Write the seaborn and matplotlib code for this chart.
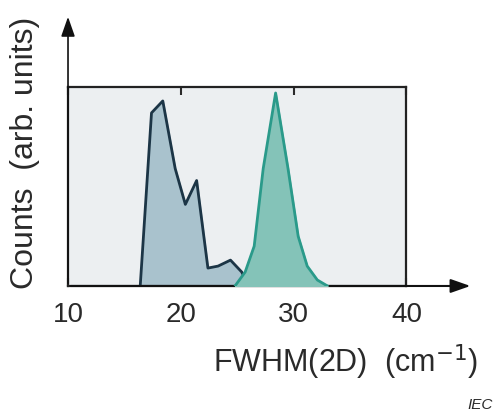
import numpy as np
import pandas as pd
import matplotlib
matplotlib.use("Agg")
import matplotlib.pyplot as plt
import seaborn as sns

# FWHM(2D) distributions (counts normalised)
fwhm_a = [16.4, 17.4, 18.4, 19.5, 20.4, 21.4, 22.4, 23.3, 24.4, 25.4, 26.0]
counts_a = [0.0, 0.87, 0.93, 0.59, 0.41, 0.53, 0.09, 0.10, 0.13, 0.07, 0.0]

fwhm_b = [24.8, 25.7, 26.5, 27.3, 28.4, 29.5, 30.4, 31.2, 32.1, 33.0]
counts_b = [0.0, 0.07, 0.20, 0.59, 0.97, 0.59, 0.25, 0.10, 0.03, 0.0]

xticks = [10, 20, 30, 40]

df_a = pd.DataFrame({"fwhm": fwhm_a, "counts": counts_a})
df_b = pd.DataFrame({"fwhm": fwhm_b, "counts": counts_b})

sns.set_theme(style="white")
plt.rcParams['font.family'] = ['Liberation Sans', 'DejaVu Sans']

fig = plt.figure(figsize=(4.95, 4.14), dpi=100)
ax = fig.add_axes([0.1374, 0.3068, 0.6838, 0.4806])
ax.set_facecolor('#eceff1')

ax.fill_between(df_a["fwhm"], df_a["counts"], color='#a9c2cd', zorder=2)
sns.lineplot(data=df_a, x="fwhm", y="counts", color='#1c3546', lw=2.0, ax=ax, zorder=3)
ax.fill_between(df_b["fwhm"], df_b["counts"], color='#84c3b8', zorder=4)
sns.lineplot(data=df_b, x="fwhm", y="counts", color='#2a9a8a', lw=2.0, ax=ax, zorder=5)

ax.set_xlim(10, 40)
ax.set_ylim(0, 1.0)
ax.set_xticks(xticks)
ax.set_yticks([])
ax.tick_params(axis='x', direction='in', length=6, width=1.5, top=True, bottom=True,
               labelsize=20, pad=11, colors='#2a2a2a')
ax.set_xlabel("")
ax.set_ylabel("")
for s in ax.spines.values():
    s.set_color('#222222')
    s.set_linewidth(1.6)

# axis arrows
ax.annotate('', xy=(0, 1.367), xytext=(0, 0), xycoords='axes fraction',
            arrowprops=dict(arrowstyle='-|>,head_length=1.0,head_width=0.35', color='#111111', lw=1.2),
            annotation_clip=False)
ax.annotate('', xy=(1.197, 0), xytext=(0, 0), xycoords='axes fraction',
            arrowprops=dict(arrowstyle='-|>,head_length=1.0,head_width=0.35', color='#111111', lw=1.5),
            annotation_clip=False)

fig.text(345 / 495, 1 - 362 / 414, "FWHM(2D)  (cm$^{-1}$)", ha='center', va='center',
         fontsize=22, color='#2a2a2a')
fig.text(25 / 495, 1 - 153 / 414, "Counts  (arb. units)", ha='center', va='center',
         rotation=90, fontsize=23, color='#2a2a2a')
fig.text(493 / 495, 1 - 405 / 414, "IEC", ha='right', va='center', fontsize=11,
         style='italic', color='#2a2a2a')

plt.savefig("out.png", dpi=100)
